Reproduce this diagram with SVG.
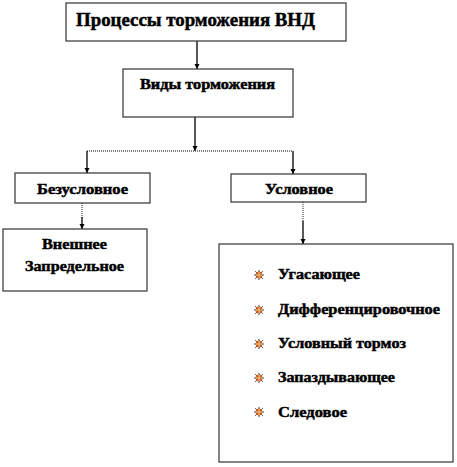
<svg xmlns="http://www.w3.org/2000/svg" width="457" height="467" viewBox="0 0 457 467">
<style>
.box{fill:#fff;stroke:#333;stroke-width:1.2}
.t{font-family:"Liberation Serif","Times New Roman","DejaVu Serif",serif;font-weight:bold;fill:#000;stroke:#000;stroke-width:0.45}
.c{stroke:#000;stroke-width:1.3;fill:none}
.d{stroke:#555;stroke-width:1.3;fill:none;stroke-dasharray:1 1}
</style>
<defs>
<marker id="ah" viewBox="0 0 10 10" refX="10" refY="5" markerWidth="4" markerHeight="4" orient="auto" markerUnits="strokeWidth">
<path d="M0,0 L10,5 L0,10 Z" fill="#000"/>
</marker>
<g id="bullet">
<g stroke="#444" stroke-width="1">
<line x1="-5" y1="0" x2="5" y2="0"/>
<line x1="0" y1="-5" x2="0" y2="5"/>
<line x1="-3.8" y1="-3.8" x2="3.8" y2="3.8"/>
<line x1="-3.8" y1="3.8" x2="3.8" y2="-3.8"/>
</g>
<circle r="3.4" fill="#c8642a"/>
<line x1="-3" y1="0" x2="3" y2="0" stroke="#f2d08a" stroke-width="0.9"/>
<line x1="0" y1="-3" x2="0" y2="3" stroke="#f2d08a" stroke-width="0.9"/>
</g>
</defs>
<g id="connectors">
<path class="c" d="M197,41 V69" marker-end="url(#ah)"/>
<path class="c" d="M195,117 V151" marker-end="url(#ah)"/>
<path class="d" d="M87,151 H293"/>
<path class="c" d="M87,151 V173" marker-end="url(#ah)"/>
<path class="c" d="M293,151 V174" marker-end="url(#ah)"/>
<path class="d" d="M82,203 V218"/>
<path class="c" d="M82,217 V229" marker-end="url(#ah)"/>
<path class="d" d="M303,202 V222"/>
<path class="c" d="M303,221 V244" marker-end="url(#ah)"/>
</g>
<g id="n-title">
<rect class="box" x="66" y="3" width="280" height="38"/>
<text class="t" x="76" y="26" font-size="18" textLength="239" lengthAdjust="spacingAndGlyphs">Процессы торможения ВНД</text>
</g>
<g id="n-vidy">
<rect class="box" x="123" y="69" width="170" height="48"/>
<text class="t" x="140" y="89" font-size="14" textLength="135" lengthAdjust="spacingAndGlyphs">Виды торможения</text>
</g>
<g id="n-bezusl">
<rect class="box" x="15" y="173" width="135" height="30"/>
<text class="t" x="37" y="194" font-size="14" textLength="91" lengthAdjust="spacingAndGlyphs">Безусловное</text>
</g>
<g id="n-usl">
<rect class="box" x="231" y="174" width="135" height="28"/>
<text class="t" x="265" y="194" font-size="14" textLength="68" lengthAdjust="spacingAndGlyphs">Условное</text>
</g>
<g id="n-vnesh">
<rect class="box" x="3" y="229" width="144" height="62"/>
<text class="t" x="42" y="249" font-size="14" textLength="65" lengthAdjust="spacingAndGlyphs">Внешнее</text>
<text class="t" x="25" y="271" font-size="14" textLength="99" lengthAdjust="spacingAndGlyphs">Запредельное</text>
</g>
<g id="n-uslvidy">
<rect class="box" x="219" y="244" width="234" height="218"/>
<use href="#bullet" x="259" y="275"/>
<text class="t" x="278" y="279" font-size="14" textLength="82" lengthAdjust="spacingAndGlyphs">Угасающее</text>
<use href="#bullet" x="259" y="310"/>
<text class="t" x="278" y="314" font-size="14" textLength="162" lengthAdjust="spacingAndGlyphs">Дифференцировочное</text>
<use href="#bullet" x="259" y="344"/>
<text class="t" x="278" y="348" font-size="14" textLength="128" lengthAdjust="spacingAndGlyphs">Условный тормоз</text>
<use href="#bullet" x="259" y="378"/>
<text class="t" x="278" y="382" font-size="14" textLength="117" lengthAdjust="spacingAndGlyphs">Запаздывающее</text>
<use href="#bullet" x="259" y="412"/>
<text class="t" x="278" y="417" font-size="14" textLength="69" lengthAdjust="spacingAndGlyphs">Следовое</text>
</g>
</svg>
